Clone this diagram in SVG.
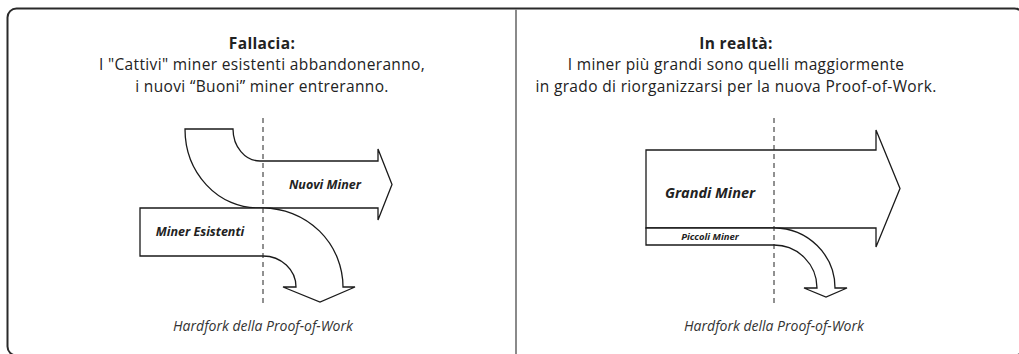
<svg xmlns="http://www.w3.org/2000/svg" width="1019" height="354" viewBox="0 0 1019 354">
  <style>
    .head { font-family: "Open Sans", "Liberation Sans", sans-serif; font-size: 15.5px; letter-spacing: 0.35px; fill: #222; text-anchor: middle; }
    .head .b { font-weight: bold; }
    .lbl { font-family: "Open Sans", "Liberation Sans", sans-serif; font-style: italic; font-weight: bold; fill: #222; text-anchor: middle; }
    .axis { font-family: "Open Sans", "Liberation Sans", sans-serif; font-style: italic; font-size: 14px; fill: #333; text-anchor: middle; }
    .shape { fill: #fff; stroke: #1a1a1a; stroke-width: 1.3; stroke-linejoin: miter; }
    .dash { stroke: #222; stroke-width: 1; stroke-dasharray: 5 4; fill: none; }
  </style>

  <!-- outer frame and panel divider -->
  <rect x="7.5" y="8.5" width="1016" height="347" rx="9" fill="#fff" stroke="#2a2a2a" stroke-width="2"/>
  <line x1="516" y1="9" x2="516" y2="354" stroke="#8a8a8a" stroke-width="2"/>

  <!-- left panel: the fallacy -->
  <g id="left-header">
    <text class="head" x="262" y="48.5"><tspan class="b" x="262" y="48.5">Fallacia:</tspan><tspan x="262" y="70">I "Cattivi" miner esistenti abbandoneranno,</tspan><tspan x="262" y="91.5">i nuovi “Buoni” miner entreranno.</tspan></text>
  </g>

  <g id="nuovi-miner">
    <path class="shape" d="M185,129 H233 A27,32 0 0 0 260,161 H378 V149 L392,184.5 L378,220 V208 H258 A73,79 0 0 1 185,129 Z"/>
    <text class="lbl" x="325" y="189" font-size="12.5">Nuovi Miner</text>
  </g>

  <g id="miner-esistenti">
    <path class="shape" d="M140,208 H263 A80,79 0 0 1 343,287 H355 L320,302 L283,287 H296 A33,31 0 0 0 263,256 H140 Z"/>
    <text class="lbl" x="200" y="236" font-size="12.5">Miner Esistenti</text>
  </g>

  <g id="left-axis">
    <text class="axis" x="263" y="331">Hardfork della Proof-of-Work</text>
  </g>

  <!-- right panel: what actually happens -->
  <g id="right-header">
    <text class="head" x="736" y="48.5"><tspan class="b" x="736" y="48.5">In realtà:</tspan><tspan x="736" y="70">I miner più grandi sono quelli maggiormente</tspan><tspan x="736" y="91.5">in grado di riorganizzarsi per la nuova Proof-of-Work.</tspan></text>
  </g>

  <g id="grandi-miner">
    <path class="shape" d="M646,150 H876 V130 L900,188.5 L876,247 V228 H646 Z"/>
    <text class="lbl" x="710" y="198" font-size="14.5">Grandi Miner</text>
  </g>

  <g id="piccoli-miner">
    <path class="shape" d="M646,228 H774 A61,60 0 0 1 835,288 H847 L826,297 L804,288 H817 A43,43 0 0 0 774,245 H646 Z"/>
    <text class="lbl" x="710" y="240" font-size="9.5">Piccoli Miner</text>
  </g>

  <g id="right-axis">
    <text class="axis" x="774" y="331">Hardfork della Proof-of-Work</text>
  </g>

  <!-- fork marker lines, drawn over the flows -->
  <g id="connectors">
    <line class="dash" x1="263" y1="118" x2="263" y2="306"/>
    <line class="dash" x1="774" y1="118" x2="774" y2="306"/>
  </g>
</svg>
